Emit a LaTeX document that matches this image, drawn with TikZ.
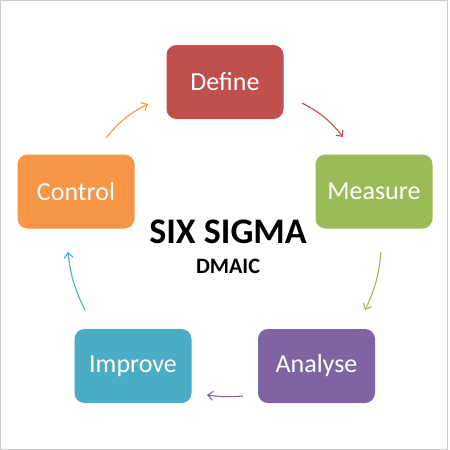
\documentclass[tikz,border=0pt]{standalone}
\usepackage{fontspec}
\setmainfont{Carlito}
\usetikzlibrary{arrows.meta}
\definecolor{cdef}{HTML}{C0504D}
\definecolor{cmea}{HTML}{9BBB59}
\definecolor{cana}{HTML}{8064A2}
\definecolor{cimp}{HTML}{4BACC6}
\definecolor{ccon}{HTML}{F79646}
\tikzset{
  stepbox/.style={rounded corners=10pt, minimum width=117pt, minimum height=74pt,
    inner sep=0pt, text=white, font=\fontsize{26}{30}\selectfont},
  flow/.style={line width=1.1pt, -{Straight Barb[length=5pt,width=9pt]}}
}
\begin{document}
\begin{tikzpicture}[x=1pt,y=-1pt]
\useasboundingbox (0,0) rectangle (450,450);
\fill[white] (0,0) rectangle (450,450);
\draw[gray!40, line width=1pt] (0.5,0.5) rectangle (447,449.5);
\node[stepbox, fill=cdef] (def) at (225,82) {Define};
\node[stepbox, fill=cmea] (mea) at (374,191.5) {Measure};
\node[stepbox, fill=cana] (ana) at (316.5,366) {Analyse};
\node[stepbox, fill=cimp] (imp) at (133,366) {Improve};
\node[stepbox, fill=ccon] (con) at (76,191.5) {Control};
\node[font=\bfseries\fontsize{36}{40}\selectfont, anchor=base] (six) at (228,243) {SIX SIGMA};
\node[font=\bfseries\fontsize{22}{26}\selectfont, anchor=base] (dmaic) at (228,273) {DMAIC};
\coordinate (a1) at (302,103); \coordinate (b1) at (343,137);
\coordinate (a2) at (381,252); \coordinate (b2) at (365,310);
\coordinate (a3) at (243,396); \coordinate (b3) at (207,395);
\coordinate (a4) at (85,310);  \coordinate (b4) at (68,252);
\coordinate (a5) at (106,138); \coordinate (b5) at (148,104);
\draw[flow, cdef] (a1) to[bend left=12] (b1);
\draw[flow, cmea] (a2) to[bend left=10] (b2);
\draw[flow, cana] (a3) to[bend left=6] (b3);
\draw[flow, cimp] (a4) to[bend left=10] (b4);
\draw[flow, ccon] (a5) to[bend left=12] (b5);
\end{tikzpicture}
\end{document}
